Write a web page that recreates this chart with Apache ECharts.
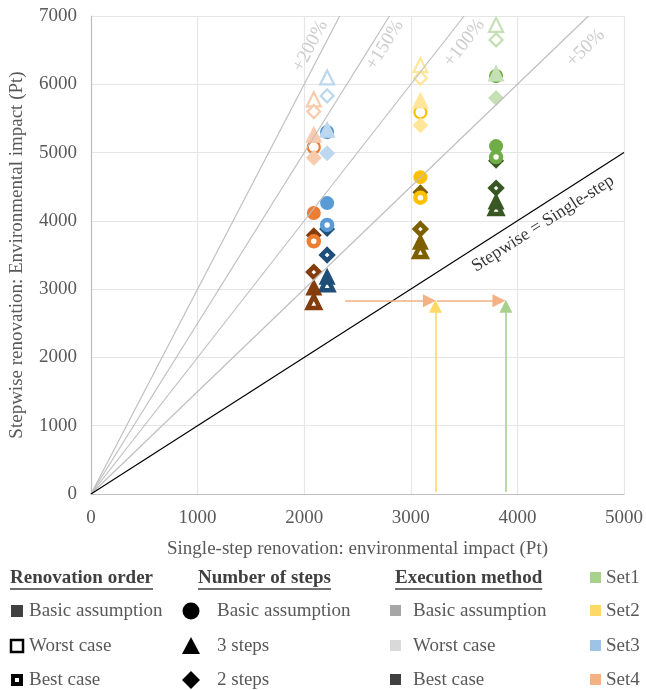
<!DOCTYPE html>
<html>
<head>
<meta charset="utf-8">
<script src="https://cdn.jsdelivr.net/npm/echarts@6/dist/echarts.min.js"></script>
<style>
  html, body { margin: 0; padding: 0; background: #fff; }
  #main { width: 646px; height: 690px; }
</style>
</head>
<body>
<div id="main"></div>
<script>
// sets: Set1..Set4, x = single-step impact
const setNames = ['Set1', 'Set2', 'Set3', 'Set4'];
const singleStep = [3800, 3090, 2215, 2090];

// medium shade = basic execution, circles = basic number of steps
const basicCircle = [5095, 4640, 4260, 4115];
const worstOrderCircle = [6120, 5590, 5300, 5080];
const bestOrderCircle = [4935, 4340, 3940, 3700];
// light shade = worst execution
const worstExec3Steps = [6165, 5770, 5340, 5270];
const worstExec3StepsWorstOrder = [6870, 6280, 6100, 5780];
const worstExec2Steps = [5800, 5400, 4990, 4925];
const worstExec2StepsWorstOrder = [6650, 6090, 5830, 5600];
// dark shade = best execution
const bestExec3Steps = [4290, 3700, 3190, 3030];
const bestExec3StepsBestOrder = [4190, 3560, 3070, 2810];
const bestExec2Steps = [4880, 4420, 3880, 3790];
const bestExec2StepsBestOrder = [4480, 3880, 3500, 3250];

// ratio lines y = f * x
const ratioFactors = [3, 2.5, 2, 1.5];
const ratioLabels = ['+200%', '+150%', '+100%', '+50%'];

// arrows [x0, y0, x1, y1]
const arrows = [
  [2384, 2830, 3175, 2830],
  [3246, 2830, 3827, 2830],
  [3231, 30, 3231, 2750],
  [3892, 30, 3892, 2750]
];

const xTicks = [0, 1000, 2000, 3000, 4000, 5000];
const yTicks = [0, 1000, 2000, 3000, 4000, 5000, 6000, 7000];

const lightColors = ['#C5E0B4', '#FFE699', '#BDD7EE', '#F8CBAD'];
const mediumColors = ['#70AD47', '#FFC000', '#5B9BD5', '#ED7D31'];
const darkColors = ['#385723', '#7F6000', '#1F4E79', '#843C0C'];
const setColors = ['#A9D18E', '#FFD966', '#9DC3E6', '#F4B183'];
const arrowColors = ['#F4B183', '#F4B183', '#FFD966', '#A9D18E'];

const FONT = '"Liberation Serif", "Times New Roman", serif';
const FS = 19;

const sizes = {
  circle: { solid: 14, hollow: 12, dot: 10 },
  triangle: { solid: 17, hollow: 14, dot: 12 },
  diamond: { solid: 16, hollow: 13, dot: 11 }
};

function itemStyle(fill, c) {
  if (fill === 'hollow') return { color: '#fff', borderColor: c, borderWidth: 2.2, opacity: 1 };
  if (fill === 'dot') return { color: '#fff', borderColor: c, borderWidth: 4.5, opacity: 1 };
  return { color: c, borderWidth: 0, opacity: 1 };
}

function markers(name, values, shape, fill, shades) {
  return {
    type: 'scatter',
    name,
    symbol: shape,
    symbolSize: sizes[shape][fill],
    silent: true,
    data: values.map((v, i) => ({ value: [singleStep[i], v], itemStyle: itemStyle(fill, shades[i]) }))
  };
}

const lineSeries = ratioFactors.map((f) => ({
  type: 'line',
  symbol: 'none',
  silent: true,
  clip: true,
  lineStyle: { color: '#BFBFBF', width: 1.2 },
  data: [[0, 0], [yTicks[yTicks.length - 1] / f, yTicks[yTicks.length - 1]]]
}));
lineSeries.push({
  type: 'line',
  symbol: 'none',
  silent: true,
  lineStyle: { color: '#000', width: 1.2 },
  data: [[0, 0], [5000, 5000]]
});

const arrowSeries = {
  type: 'line',
  data: [],
  silent: true,
  markLine: {
    silent: true,
    symbol: ['none', 'triangle'],
    symbolSize: [13, 13],
    label: { show: false },
    animation: false,
    data: arrows.map((a, i) => [
      { coord: [a[0], a[1]], lineStyle: { color: arrowColors[i], width: 1.6, type: 'solid' }, itemStyle: { color: arrowColors[i] } },
      { coord: [a[2], a[3]] }
    ])
  }
};

// label anchors (data coords) and rotation for the line annotations
const annotations = [
  { text: ratioLabels[0], at: [2058, 6560], rotate: 62, color: '#BFBFBF', size: FS },
  { text: ratioLabels[1], at: [2756, 6574], rotate: 58, color: '#BFBFBF', size: FS },
  { text: ratioLabels[2], at: [3501, 6603], rotate: 52, color: '#BFBFBF', size: FS },
  { text: ratioLabels[3], at: [4640, 6530], rotate: 44, color: '#BFBFBF', size: FS },
  { text: 'Stepwise = Single-step', at: [4240, 3960], rotate: 32.5, color: '#000', size: 18 }
];
const annotationSeries = {
  type: 'scatter',
  symbolSize: 0,
  silent: true,
  z: 1,
  data: annotations.map((a) => ({
    value: a.at,
    label: {
      show: true, position: 'inside', formatter: a.text, rotate: a.rotate,
      color: a.color, fontFamily: FONT, fontSize: a.size
    }
  }))
};

const series = [].concat(
  lineSeries,
  [arrowSeries, annotationSeries],
  [
    markers('dark 3 best', bestExec3StepsBestOrder, 'triangle', 'dot', darkColors),
    markers('dark 3', bestExec3Steps, 'triangle', 'solid', darkColors),
    markers('dark 2', bestExec2Steps, 'diamond', 'solid', darkColors),
    markers('dark 2 best', bestExec2StepsBestOrder, 'diamond', 'dot', darkColors),
    markers('basic', basicCircle, 'circle', 'solid', mediumColors),
    markers('worst order', worstOrderCircle, 'circle', 'hollow', mediumColors),
    markers('best order', bestOrderCircle, 'circle', 'dot', mediumColors),
    markers('light 3', worstExec3Steps, 'triangle', 'solid', lightColors),
    markers('light 3 worst', worstExec3StepsWorstOrder, 'triangle', 'hollow', lightColors),
    markers('light 2', worstExec2Steps, 'diamond', 'solid', lightColors),
    markers('light 2 worst', worstExec2StepsWorstOrder, 'diamond', 'hollow', lightColors)
  ]
);

// ---- legend drawn with graphic elements ----
const ctx = document.createElement('canvas').getContext('2d');
function textWidth(t, bold) {
  ctx.font = (bold ? 'bold ' : '') + FS + 'px ' + FONT;
  return ctx.measureText(t).width;
}
const graphic = [];
function text(x, y, t, opts = {}) {
  graphic.push({
    type: 'text', x, y, silent: true,
    style: { text: t, fill: opts.color || '#595959', font: (opts.bold ? 'bold ' : '') + FS + 'px ' + FONT, textVerticalAlign: 'middle' }
  });
}
function header(x, y, t) {
  text(x, y, t, { bold: true, color: '#404040' });
  const w = textWidth(t, true);
  graphic.push({ type: 'line', silent: true, shape: { x1: x, y1: y + 11, x2: x + w, y2: y + 11 }, style: { stroke: '#404040', lineWidth: 1.5 } });
}
const headY = 578;
const rows = [611, 646, 680];

header(10, headY, 'Renovation order');
graphic.push({ type: 'rect', silent: true, shape: { x: 11, y: rows[0] - 6, width: 12, height: 12 }, style: { fill: '#404040' } });
graphic.push({ type: 'rect', silent: true, shape: { x: 11, y: rows[1] - 6, width: 12, height: 12 }, style: { fill: '#fff', stroke: '#000', lineWidth: 2.5 } });
graphic.push({ type: 'rect', silent: true, shape: { x: 11, y: rows[2] - 6, width: 12, height: 12 }, style: { fill: '#000' } });
graphic.push({ type: 'rect', silent: true, shape: { x: 15, y: rows[2] - 2, width: 4, height: 4 }, style: { fill: '#fff' } });
text(29, rows[0], 'Basic assumption');
text(29, rows[1], 'Worst case');
text(29, rows[2], 'Best case');

header(198, headY, 'Number of steps');
graphic.push({ type: 'circle', silent: true, shape: { cx: 191, cy: rows[0], r: 8.5 }, style: { fill: '#000' } });
graphic.push({ type: 'polygon', silent: true, shape: { points: [[191, rows[1] - 9], [182, rows[1] + 8], [200, rows[1] + 8]] }, style: { fill: '#000' } });
graphic.push({ type: 'polygon', silent: true, shape: { points: [[191, rows[2] - 9], [200, rows[2]], [191, rows[2] + 9], [182, rows[2]]] }, style: { fill: '#000' } });
text(217, rows[0], 'Basic assumption');
text(217, rows[1], '3 steps');
text(217, rows[2], '2 steps');

header(395, headY, 'Execution method');
const execColors = ['#A6A6A6', '#D9D9D9', '#404040'];
['Basic assumption', 'Worst case', 'Best case'].forEach((t, i) => {
  graphic.push({ type: 'rect', silent: true, shape: { x: 390, y: rows[i] - 6, width: 11, height: 11 }, style: { fill: execColors[i] } });
  text(413, rows[i], t);
});

[headY].concat(rows).forEach((y, i) => {
  graphic.push({ type: 'rect', silent: true, shape: { x: 590, y: y - 6, width: 11, height: 11 }, style: { fill: setColors[i] } });
  text(606, y, setNames[i]);
});

const axisText = { color: '#595959', fontFamily: FONT, fontSize: FS };

const chart = echarts.init(document.getElementById('main'));
chart.setOption({
  animation: false,
  backgroundColor: '#fff',
  grid: { left: 89, right: 20, top: 16, bottom: 196, containLabel: false },
  xAxis: {
    type: 'value', min: xTicks[0], max: xTicks[xTicks.length - 1], interval: 1000,
    name: 'Single-step renovation: environmental impact (Pt)',
    nameLocation: 'middle', nameGap: 46, nameTextStyle: axisText,
    axisLine: { show: true, onZero: false, lineStyle: { color: '#BFBFBF', width: 1.2 } },
    axisTick: { show: false },
    axisLabel: Object.assign({ margin: 15, formatter: (v) => String(v) }, axisText),
    splitLine: { show: true, lineStyle: { color: '#E6E6E6', width: 1.2 } }
  },
  yAxis: {
    type: 'value', min: yTicks[0], max: yTicks[yTicks.length - 1], interval: 1000,
    name: 'Stepwise renovation: Environmental impact (Pt)',
    nameLocation: 'middle', nameGap: 64, nameTextStyle: axisText,
    axisLine: { show: true, onZero: false, lineStyle: { color: '#BFBFBF', width: 1.2 } },
    axisTick: { show: false },
    axisLabel: Object.assign({ margin: 14, formatter: (v) => String(v) }, axisText),
    splitLine: { show: true, lineStyle: { color: '#E6E6E6', width: 1.2 } }
  },
  graphic,
  series
});
</script>
</body>
</html>
